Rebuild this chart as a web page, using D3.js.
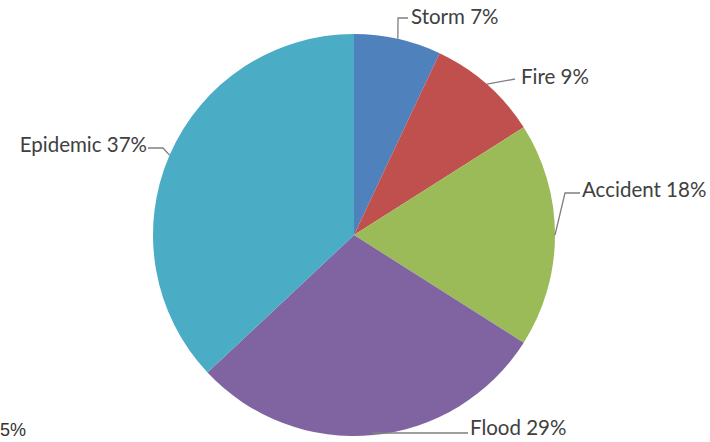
<!DOCTYPE html>
<html>
<head>
<meta charset="utf-8">
<script src="https://cdn.jsdelivr.net/npm/d3@7"></script>
<style>
  html, body { margin: 0; padding: 0; background: #ffffff; overflow: hidden; }
  svg { display: block; }
</style>
</head>
<body>
<svg id="chart" width="710" height="442"></svg>
<script>
// Disaster types and their share of events (percent)
const categories = ["Storm", "Fire", "Accident", "Flood", "Epidemic"];
const values = [7, 9, 18, 29, 37];
const colors = ["#4f81bd", "#c0504d", "#9bbb59", "#8064a2", "#4bacc6"];

const width = 710, height = 442;
const cx = 354, cy = 235, radius = 201;

// Label placement: leader elbow point and text anchor, relative to the pie centre
const labelLayout = {
  Storm:    { elbow: [44, -217], end: [54, -217], text: [57, -219], anchor: "start" },
  Fire:     { elbow: [161, -156], end: [161, -156], text: [167, -159], anchor: "start" },
  Accident: { elbow: [211, -42], end: [226, -42], text: [228, -46], anchor: "start" },
  Flood:    { elbow: [19, 198], end: [114, 198], text: [116, 192], anchor: "start" },
  Epidemic: { elbow: [-191, -87], end: [-206, -87], text: [-207, -91], anchor: "end" }
};

const svg = d3.select("#chart");
const g = svg.append("g").attr("transform", `translate(${cx},${cy})`);

const data = categories.map((c, i) => ({ name: c, value: values[i], color: colors[i] }));

const pie = d3.pie().sort(null).value(d => d.value);
const arc = d3.arc().innerRadius(0).outerRadius(radius);
const arcs = pie(data);

g.selectAll("path.slice")
  .data(arcs)
  .join("path")
  .attr("class", "slice")
  .attr("d", arc)
  .attr("fill", d => d.data.color);

// Leader lines from the slice edge at its mid-angle
const edgeArc = d3.arc().innerRadius(radius).outerRadius(radius);
g.selectAll("polyline.leader")
  .data(arcs)
  .join("polyline")
  .attr("class", "leader")
  .attr("fill", "none")
  .attr("stroke", "#7f7f7f")
  .attr("stroke-width", 1.3)
  .attr("points", d => {
    const L = labelLayout[d.data.name];
    const p = edgeArc.centroid(d);
    return [p, L.elbow, L.end].map(q => q.join(",")).join(" ");
  });

g.selectAll("text.label")
  .data(arcs)
  .join("text")
  .attr("class", "label")
  .attr("x", d => labelLayout[d.data.name].text[0])
  .attr("y", d => labelLayout[d.data.name].text[1])
  .attr("text-anchor", d => labelLayout[d.data.name].anchor)
  .attr("dominant-baseline", "central")
  .attr("font-family", "Lato, 'Liberation Sans', sans-serif")
  .attr("font-size", 20.5)
  .attr("fill", "#404040")
  .text(d => `${d.data.name} ${d.data.value}%`);

// Stray percentage text at the lower-left corner
svg.append("text")
  .attr("x", 0)
  .attr("y", 430)
  .attr("dominant-baseline", "central")
  .attr("font-family", "'Liberation Sans', Arial, sans-serif")
  .attr("font-size", 18)
  .attr("fill", "#333333")
  .text("5%");
</script>
</body>
</html>
